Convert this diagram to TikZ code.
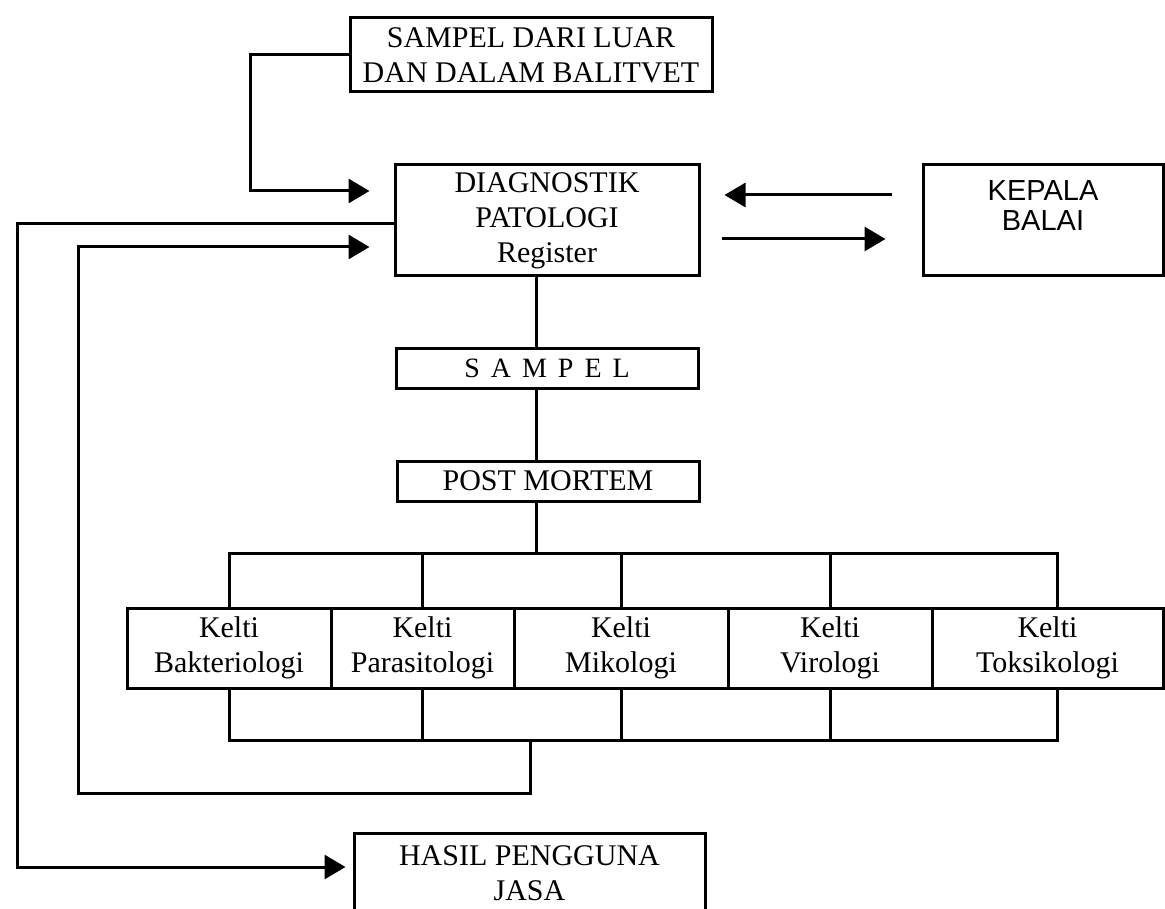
\documentclass[tikz,border=0pt]{standalone}
\usepackage{fontspec}
\setmainfont{Liberation Serif}
\newfontfamily\sansf{Liberation Sans}
\usetikzlibrary{arrows.meta}
\newcommand{\ls}{\hspace{11pt}}
\begin{document}
\begin{tikzpicture}[x=1pt,y=-1pt, line width=3pt,
  box/.style={draw, rectangle, inner sep=0pt, align=center, font=\fontsize{30}{35}\selectfont},
  arr/.style={-{Triangle[length=21pt,width=24pt]}}]
\clip (0,0) rectangle (1165,909);
\fill[white] (0,0) rectangle (1165,909);
% boxes
\node[box, minimum width=362pt, minimum height=74pt] (src) at (531,55) {SAMPEL DARI LUAR\\DAN DALAM BALITVET};
\node[box, minimum width=304pt, minimum height=111pt] (diag) at (547,220.5) {DIAGNOSTIK\\PATOLOGI\\Register};
\node[box, minimum width=240pt, minimum height=111pt, font=\sansf\fontsize{29}{30}\selectfont] (kep) at (1043,220.5) {KEPALA\\BALAI\\\mbox{}};
\node[box, minimum width=302pt, minimum height=39pt, font=\fontsize{28}{30}\selectfont] (sampel) at (547,368.5) {S\ls A\ls M\ls P\ls E\ls L};
\node[box, minimum width=302pt, minimum height=40pt] (post) at (548,481) {POST MORTEM};
\node[box, minimum width=204pt, minimum height=80pt] (k1) at (229,648) {Kelti\\Bakteriologi};
\node[box, minimum width=183pt, minimum height=80pt] (k2) at (422.5,648) {Kelti\\Parasitologi};
\node[box, minimum width=214pt, minimum height=80pt] (k3) at (621,648) {Kelti\\Mikologi};
\node[box, minimum width=204pt, minimum height=80pt] (k4) at (830,648) {Kelti\\Virologi};
\node[box, minimum width=231pt, minimum height=80pt] (k5) at (1047.5,648) {Kelti\\Toksikologi};
\node[box, minimum width=351pt, minimum height=80pt] (hasil) at (529.5,873) {HASIL PENGGUNA\\JASA};
% coordinates
\coordinate (spine) at (536,0);
\coordinate (k5t) at ([xshift=10pt]k5.north);
\coordinate (k5b) at ([xshift=10pt]k5.south);
\coordinate (lp) at (530,740);
% tree
\draw (diag.south -| spine) -- (sampel.north -| spine);
\draw (sampel.south -| spine) -- (post.north -| spine);
\draw (post.south -| spine) -- (spine |- 0,553);
\draw (k1.north) -- (k1.north |- 0,553) -- (k5t |- 0,553) -- (k5t);
\foreach \k in {k2,k3,k4} \draw (\k.north) -- (\k.north |- 0,553);
\draw (k1.south) -- (k1.south |- 0,740) -- (k5b |- 0,740) -- (k5b);
\foreach \k in {k2,k3,k4} \draw (\k.south) -- (\k.south |- 0,740);
% loops
\draw[arr, shorten >=24pt] (lp) -- (530,793) -| (78,247) -- (diag.west |- 0,247);
\draw[arr, shorten >=24pt] (src.west) -- (250,55) |- (diag.west |- 0,191);
\draw[arr, shorten >=7pt] (diag.west |- 0,224) -- (17,224) -- (17,867) -- (hasil.west |- 0,867);
% kepala arrows
\draw[arr, shorten <=30pt, shorten >=24pt] (kep.west |- 0,195) -- (diag.east |- 0,195);
\draw[arr, shorten <=21pt, shorten >=36pt] (diag.east |- 0,239) -- (kep.west |- 0,239);
\end{tikzpicture}
\end{document}
